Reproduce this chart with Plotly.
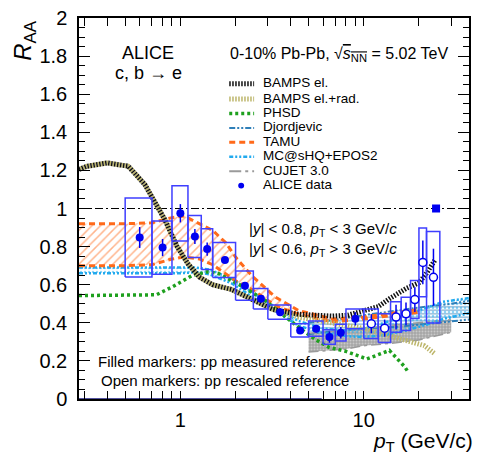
import plotly.graph_objects as go
import numpy as np

# ---------------- data ----------------
# ALICE data, filled markers (pp measured reference)
pt_f = [0.6, 0.8, 1.0, 1.2, 1.4, 1.75, 2.25, 2.75, 3.5, 4.5, 5.5, 6.5, 7.5, 9.0]
raa_f = [0.848, 0.795, 0.975, 0.853, 0.787, 0.73, 0.595, 0.526, 0.456, 0.36, 0.369, 0.325, 0.348, 0.421]
stat_f = [0.055, 0.045, 0.048, 0.04, 0.035, 0.015, 0.012, 0.01, 0.008, 0.01, 0.02, 0.03, 0.03, 0.035]
sys_f = [0.207, 0.14, 0.145, 0.11, 0.107, 0.092, 0.077, 0.054, 0.037, 0.035, 0.04, 0.038, 0.044, 0.052]
xlo_f = [0.5, 0.7, 0.9, 1.1, 1.3, 1.5, 2.0, 2.5, 3.0, 4.0, 5.0, 6.0, 7.0, 8.0]
xhi_f = [0.7, 0.9, 1.1, 1.3, 1.5, 2.0, 2.5, 3.0, 4.0, 5.0, 6.0, 7.0, 8.0, 10.0]

# ALICE data, open markers (pp rescaled reference)
pt_o = [11, 13, 15, 17, 19, 21, 24]
raa_o = [0.395, 0.372, 0.43, 0.447, 0.522, 0.717, 0.639]
stat_o = [0.05, 0.045, 0.065, 0.06, 0.065, 0.115, 0.15]
sys_o = [0.078, 0.075, 0.08, 0.087, 0.1, 0.18, 0.24]
xlo_o = [10, 12, 14, 16, 18, 20, 22]
xhi_o = [12, 14, 16, 18, 20, 22, 26]

# normalisation uncertainty marker
norm_x = [24.8]
norm_y = [1.0]

# BAMPS el.
bamps_el_pt = [0.28, 0.31, 0.4, 0.52, 0.64, 0.74, 0.82, 0.96, 1.1, 1.27, 1.5, 1.9, 2.4, 3.2, 4.4, 5.7, 6.7, 8.2, 10, 12, 14, 17, 20, 22, 24.5]
bamps_el_r = [1.205, 1.222, 1.239, 1.222, 1.126, 1.022, 0.944, 0.80, 0.71, 0.64, 0.60, 0.575, 0.53, 0.47, 0.445, 0.435, 0.435, 0.44, 0.46, 0.485, 0.53, 0.58, 0.61, 0.66, 0.73]
# BAMPS el.+rad.
bamps_rad_pt = [0.28, 0.31, 0.4, 0.52, 0.64, 0.74, 0.82, 0.96, 1.1, 1.27, 1.5, 1.9, 2.4, 3.2, 4.4, 6.7, 10, 14, 18, 21.4, 24.2]
bamps_rad_r = [1.205, 1.222, 1.239, 1.222, 1.126, 1.022, 0.944, 0.80, 0.71, 0.64, 0.60, 0.575, 0.53, 0.47, 0.43, 0.40, 0.37, 0.33, 0.30, 0.28, 0.24]

# PHSD
phsd_pt = [0.28, 0.5, 0.74, 0.91, 1.16, 1.4, 1.6, 2.1, 2.9, 3.7, 4.5, 5.5, 6.5, 8.0, 10.4, 13.8, 16.7, 17.5]
phsd_r = [0.543, 0.543, 0.547, 0.59, 0.648, 0.668, 0.66, 0.60, 0.517, 0.435, 0.37, 0.31, 0.27, 0.25, 0.21, 0.255, 0.17, 0.14]

# Djordjevic band
djo_pt = [5, 6.7, 10, 15, 20, 30, 40]
djo_hi = [0.40, 0.413, 0.44, 0.465, 0.48, 0.50, 0.52]
djo_lo = [0.34, 0.355, 0.37, 0.378, 0.39, 0.41, 0.42]

# TAMU band
tamu_pt = [0.28, 0.5, 0.7, 0.9, 1.05, 1.27, 1.5, 1.77, 2.0, 2.46, 3.3, 4.4, 6.7, 10, 13.5, 20]
tamu_hi = [0.92, 0.92, 0.925, 0.952, 0.96, 0.92, 0.885, 0.82, 0.745, 0.645, 0.535, 0.465, 0.42, 0.43, 0.447, 0.47]
tamu_lo = [0.70, 0.70, 0.705, 0.735, 0.745, 0.735, 0.705, 0.655, 0.62, 0.575, 0.49, 0.445, 0.405, 0.42, 0.435, 0.455]

# MC@sHQ+EPOS2 band
mc_pt = [0.28, 0.6, 1.0, 1.2, 1.44, 1.92, 2.57, 3.58, 4.4, 6, 8, 10, 13, 17, 22, 27, 37.5]
mc_hi = [0.69, 0.69, 0.69, 0.69, 0.68, 0.63, 0.55, 0.46, 0.41, 0.37, 0.36, 0.37, 0.40, 0.44, 0.48, 0.51, 0.53]
mc_lo = [0.66, 0.66, 0.66, 0.665, 0.655, 0.605, 0.525, 0.44, 0.385, 0.345, 0.33, 0.325, 0.335, 0.36, 0.39, 0.42, 0.45]

# CUJET 3.0 band
cujet_pt = [5, 8, 10, 15, 20, 30]
cujet_hi = [0.345, 0.36, 0.37, 0.39, 0.40, 0.416]
cujet_lo = [0.247, 0.262, 0.28, 0.295, 0.31, 0.35]

# bottom navy segment
navy_x = [0.28, 5.9]
navy_y = [0.0, 0.0]

# axis ticks
x_major = [1, 10]
x_minor = [0.3, 0.4, 0.5, 0.6, 0.7, 0.8, 0.9, 2, 3, 4, 5, 6, 7, 8, 9, 20, 30]
yticks = [0, 0.2, 0.4, 0.6, 0.8, 1.0, 1.2, 1.4, 1.6, 1.8, 2.0]
ytext = ["0", "0.2", "0.4", "0.6", "0.8", "1", "1.2", "1.4", "1.6", "1.8", "2"]

# legend labels
legend_labels = ["BAMPS el.", "BAMPS el.+rad.", "PHSD", "Djordjevic", "TAMU", "MC@sHQ+EPOS2", "CUJET 3.0", "ALICE data"]

# ---------------- styles ----------------
FONT = "Liberation Sans, Arial, sans-serif"
BLUE = "#0000f0"
BOXBLUE = "#3f3fff"
ORANGE = "#ff6a1a"
GREEN = "#1ea01e"
STEEL = "#2f7fb8"
SKY = "#22aaee"
GREY = "#9a9a9a"
KHAKI = "#bdb66b"

XR = [np.log10(0.28), np.log10(37.5)]

fig = go.Figure()


def band(x, hi, lo):
    return list(x) + list(x)[::-1] + [x[0]], list(hi) + list(lo)[::-1] + [hi[0]]


# TAMU band
bx, by = band(tamu_pt, tamu_hi, tamu_lo)
fig.add_trace(go.Scatter(x=bx, y=by, mode="none", fill="toself", fillcolor="rgba(0,0,0,0)",
                         fillpattern=dict(shape="/", fgcolor=ORANGE, bgcolor="rgba(0,0,0,0)", size=6, solidity=0.25),
                         hoverinfo="skip", showlegend=False))
# CUJET band
bx, by = band(cujet_pt, cujet_hi, cujet_lo)
fig.add_trace(go.Scatter(x=bx, y=by, mode="none", fill="toself", fillcolor="#aaaaaa",
                         fillpattern=dict(shape=".", fgcolor="#eeeeee", bgcolor="#a5a5a5", size=3, solidity=0.35),
                         hoverinfo="skip", showlegend=False))
# Djordjevic band
bx, by = band(djo_pt, djo_hi, djo_lo)
fig.add_trace(go.Scatter(x=bx, y=by, mode="none", fill="toself", fillcolor="rgba(0,0,0,0)",
                         fillpattern=dict(shape="-", fgcolor=STEEL, bgcolor="rgba(0,0,0,0)", size=3.5, solidity=0.45),
                         hoverinfo="skip", showlegend=False))
# MC@sHQ band
bx, by = band(mc_pt, mc_hi, mc_lo)
fig.add_trace(go.Scatter(x=bx, y=by, mode="none", fill="toself", fillcolor="rgba(0,0,0,0)",
                         fillpattern=dict(shape=".", fgcolor=SKY, bgcolor="rgba(0,0,0,0)", size=4, solidity=0.3),
                         hoverinfo="skip", showlegend=False))

# band edges
for yv in (djo_hi, djo_lo):
    fig.add_trace(go.Scatter(x=djo_pt, y=yv, mode="lines",
                             line=dict(color=STEEL, width=2, dash="6px,2px,2px,2px,2px,2px"),
                             hoverinfo="skip", showlegend=False))
for yv in (cujet_hi, cujet_lo):
    fig.add_trace(go.Scatter(x=cujet_pt, y=yv, mode="lines",
                             line=dict(color=GREY, width=1.5, dash="10px,4px,3px,4px"),
                             hoverinfo="skip", showlegend=False))
for yv in (mc_hi, mc_lo):
    fig.add_trace(go.Scatter(x=mc_pt, y=yv, mode="lines",
                             line=dict(color=SKY, width=2.5, dash="4px,2px,2px,2px,2px,2px"),
                             hoverinfo="skip", showlegend=False))
for yv in (tamu_hi, tamu_lo):
    fig.add_trace(go.Scatter(x=tamu_pt, y=yv, mode="lines",
                             line=dict(color=ORANGE, width=3, dash="6px,4px"),
                             hoverinfo="skip", showlegend=False))
# PHSD
fig.add_trace(go.Scatter(x=phsd_pt, y=phsd_r, mode="lines",
                         line=dict(color=GREEN, width=3.5, dash="3px,3px"),
                         hoverinfo="skip", showlegend=False))
# BAMPS (el.+rad. stripes offset so that they interleave with el. stripes)
fig.add_trace(go.Scatter(x=bamps_rad_pt, y=bamps_rad_r, mode="lines",
                         line=dict(color=KHAKI, width=5, dash="0px,1.5px,1.5px,0px"),
                         hoverinfo="skip", showlegend=False))
fig.add_trace(go.Scatter(x=bamps_el_pt, y=bamps_el_r, mode="lines",
                         line=dict(color="#111111", width=5, dash="1.5px,1.5px"),
                         hoverinfo="skip", showlegend=False))

# navy bottom segment
fig.add_trace(go.Scatter(x=navy_x, y=navy_y, mode="lines", line=dict(color="#1a1a80", width=1.5),
                         hoverinfo="skip", showlegend=False, cliponaxis=False))


# systematic boxes
def boxes(xlo, xhi, y, s):
    bxs, bys = [], []
    for a, b, c, d in zip(xlo, xhi, y, s):
        bxs += [a, b, b, a, a, None]
        bys += [c - d, c - d, c + d, c + d, c - d, None]
    return bxs, bys


for xl, xh, yy, ss in ((xlo_f, xhi_f, raa_f, sys_f), (xlo_o, xhi_o, raa_o, sys_o)):
    bxs, bys = boxes(xl, xh, yy, ss)
    fig.add_trace(go.Scatter(x=bxs, y=bys, mode="lines", line=dict(color=BOXBLUE, width=1.5),
                             hoverinfo="skip", showlegend=False))

# data points
fig.add_trace(go.Scatter(x=pt_f, y=raa_f, mode="markers",
                         marker=dict(symbol="circle", size=8, color=BLUE),
                         error_y=dict(type="data", array=stat_f, width=0, thickness=1.5, color=BLUE),
                         showlegend=False))
fig.add_trace(go.Scatter(x=pt_o, y=raa_o, mode="markers",
                         marker=dict(symbol="circle", size=8, color="white", line=dict(color=BLUE, width=1.5)),
                         error_y=dict(type="data", array=stat_o, width=0, thickness=1.5, color=BLUE),
                         showlegend=False))
fig.add_trace(go.Scatter(x=norm_x, y=norm_y, mode="markers",
                         marker=dict(symbol="square", size=8, color=BLUE),
                         showlegend=False))

# ---------------- layout ----------------
L, R_, T, B = 79, 471, 16, 399
W, H = R_ - L, B - T


def px(x):
    return (x - L) / W


def py(y):
    return (B - y) / H


shapes = []
# unity dash-dot line
shapes.append(dict(type="line", xref="paper", yref="y", x0=0, x1=1, y0=1, y1=1,
                   line=dict(color="black", width=1, dash="8px,3px,2px,3px"), layer="below"))

# legend samples
leg_y = [80, 95.5, 110, 124.5, 139, 153.5, 168, 182.5]
leg_styles = [
    dict(color="#111111", width=5, dash="1.5px,1.5px"),
    dict(color=KHAKI, width=5, dash="1.5px,1.5px"),
    dict(color=GREEN, width=3.5, dash="3px,3px"),
    dict(color=STEEL, width=2, dash="6px,2px,2px,2px,2px,2px"),
    dict(color=ORANGE, width=3, dash="6px,4px"),
    dict(color=SKY, width=2.5, dash="4px,2px,2px,2px,2px,2px"),
    dict(color=GREY, width=2, dash="12px,4px,3px,4px"),
]
for yy, st in zip(leg_y[:7], leg_styles):
    shapes.append(dict(type="line", xref="paper", yref="paper", x0=px(230), x1=px(255),
                       y0=py(yy + 2), y1=py(yy + 2), line=st))
shapes.append(dict(type="circle", xref="paper", yref="paper", x0=px(239), x1=px(245),
                   y0=py(leg_y[7] + 5), y1=py(leg_y[7] - 1), fillcolor=BLUE, line=dict(width=0)))

ann = []
for yy, lab in zip(leg_y, legend_labels):
    ann.append(dict(x=px(262), y=py(yy + 1), xref="paper", yref="paper", text=lab, showarrow=False,
                    xanchor="left", yanchor="middle", font=dict(family=FONT, size=13.5, color="black")))

ann.append(dict(x=px(148.5), y=py(51), xref="paper", yref="paper", text="ALICE", showarrow=False,
                xanchor="center", yanchor="middle", font=dict(family=FONT, size=18, color="black")))
ann.append(dict(x=px(148.5), y=py(71), xref="paper", yref="paper", text="c, b \u2192 e", showarrow=False,
                xanchor="center", yanchor="middle", font=dict(family=FONT, size=18, color="black")))
ann.append(dict(x=px(229), y=py(53), xref="paper", yref="paper",
                text="0-10% Pb-Pb, \u221a<span style='text-decoration:overline'><i>s</i><sub>NN</sub></span> = 5.02 TeV",
                showarrow=False, xanchor="left", yanchor="middle",
                font=dict(family=FONT, size=16, color="black")))
ann.append(dict(x=px(248), y=py(229), xref="paper", yref="paper",
                text="|<i>y</i>| &lt; 0.8, <i>p</i><sub>T</sub> &lt; 3 GeV/<i>c</i>",
                showarrow=False, xanchor="left", yanchor="middle",
                font=dict(family=FONT, size=15, color="black")))
ann.append(dict(x=px(248), y=py(249), xref="paper", yref="paper",
                text="|<i>y</i>| &lt; 0.6, <i>p</i><sub>T</sub> &gt; 3 GeV/<i>c</i>",
                showarrow=False, xanchor="left", yanchor="middle",
                font=dict(family=FONT, size=15, color="black")))
ann.append(dict(x=px(96), y=py(361), xref="paper", yref="paper",
                text="Filled markers: pp measured reference", showarrow=False,
                xanchor="left", yanchor="middle", font=dict(family=FONT, size=15, color="black")))
ann.append(dict(x=px(99), y=py(380), xref="paper", yref="paper",
                text="Open markers: pp rescaled reference", showarrow=False,
                xanchor="left", yanchor="middle", font=dict(family=FONT, size=15, color="black")))
# axis titles
ann.append(dict(x=px(477), y=py(442), xref="paper", yref="paper",
                text="<i>p</i><sub>T</sub> (GeV/c)", showarrow=False,
                xanchor="right", yanchor="middle", font=dict(family=FONT, size=21, color="black")))
ann.append(dict(x=px(24), y=py(16), xref="paper", yref="paper",
                text="<i>R</i><sub>AA</sub>", showarrow=False, textangle=-90,
                xanchor="center", yanchor="top", font=dict(family=FONT, size=24, color="black")))

x_all = sorted(x_major + x_minor)
x_all_text = [("1" if v == 1 else "10" if v == 10 else "") for v in x_all]

fig.update_layout(
    width=478, height=454,
    margin=dict(l=L, r=478 - R_, t=T, b=454 - B),
    paper_bgcolor="white", plot_bgcolor="white",
    showlegend=False,
    shapes=shapes, annotations=ann,
    font=dict(family=FONT, color="black"),
    xaxis=dict(type="log", range=XR, showgrid=False, zeroline=False,
               showline=True, linecolor="black", linewidth=1.5, mirror="allticks",
               ticks="inside", ticklen=8, tickwidth=1, tickcolor="black",
               tickvals=x_all, ticktext=x_all_text, ticklabelstandoff=2,
               tickfont=dict(family=FONT, size=20, color="black")),
    yaxis=dict(range=[0, 2], showgrid=False, zeroline=False,
               showline=True, linecolor="black", linewidth=1.5, mirror="allticks",
               ticks="inside", ticklen=11, tickwidth=1, tickcolor="black",
               tickvals=yticks, ticktext=ytext, ticklabelstandoff=6,
               tickfont=dict(family=FONT, size=20, color="black"),
               minor=dict(dtick=0.05, ticks="inside", ticklen=6, tickcolor="black", tickwidth=1, showgrid=False)),
)

fig.write_html("out.html")
